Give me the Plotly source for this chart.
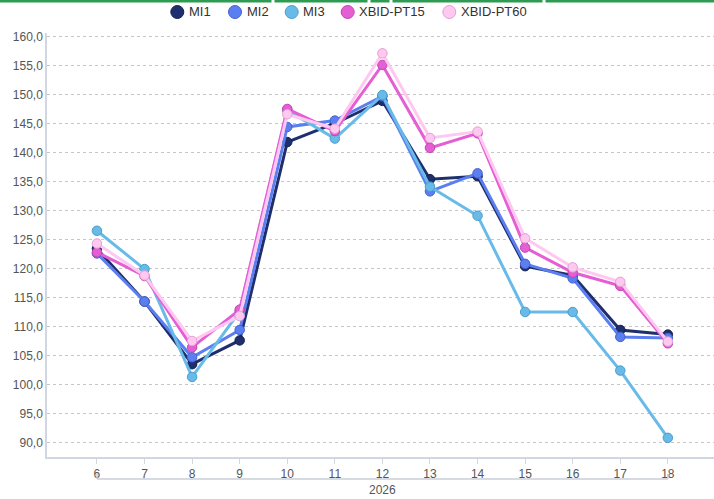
import plotly.graph_objects as go

weeks = [6, 7, 8, 9, 10, 11, 12, 13, 14, 15, 16, 17, 18]
year_label = "2026"
series_names = ["MI1", "MI2", "MI3", "XBID-PT15", "XBID-PT60"]
mi1 = [123.4, 114.3, 103.5, 107.6, 141.8, 145.0, 148.9, 135.4, 135.9, 120.4, 118.8, 109.4, 108.6]
mi2 = [122.6, 114.3, 104.7, 109.4, 144.4, 145.5, 149.7, 133.3, 136.4, 120.8, 118.3, 108.2, 108.0]
mi3 = [126.5, 119.9, 101.3, 112.6, 147.3, 142.4, 149.9, 134.1, 129.1, 112.5, 112.5, 102.4, 90.8]
pt15 = [122.8, 118.7, 106.4, 112.9, 147.5, 143.7, 155.1, 140.8, 143.3, 123.6, 119.3, 117.0, 107.1]
pt60 = [124.3, 118.8, 107.5, 111.8, 146.6, 144.1, 157.1, 142.5, 143.6, 125.2, 120.2, 117.7, 107.4]
y_ticks = [90, 95, 100, 105, 110, 115, 120, 125, 130, 135, 140, 145, 150, 155, 160]

values = [mi1, mi2, mi3, pt15, pt60]
line_colors = ["#1f2f6e", "#5b7ef0", "#68bbe8", "#e55fd4", "#ffc8f0"]
edge_colors = ["#15214f", "#4262d0", "#4a9dcc", "#c443b2", "#e0a2d2"]

W, H = 714, 499
left_m, right_m, top_m, bot_m = 47, 0, 33, 42
plot_w = W - left_m - right_m
plot_h = H - top_m - bot_m


def xpx(px):
    return (px - left_m) / plot_w


def ypx(px):
    return 1 - (px - top_m) / plot_h


fig = go.Figure()
for name, vals, lc, ec in zip(series_names, values, line_colors, edge_colors):
    fig.add_trace(go.Scatter(
        x=weeks, y=vals, name=name, mode="lines+markers",
        line=dict(color=lc, width=3),
        marker=dict(size=9.5, color=lc, line=dict(color=ec, width=1)),
        showlegend=False, hovertemplate="%{y:.1f}<extra>" + name + "</extra>",
    ))

shapes = []
annotations = []
# bracket under x axis tick labels
shapes.append(dict(type="line", xref="x", yref="paper", x0=weeks[0], x1=weeks[-1],
                   y0=ypx(479), y1=ypx(479), line=dict(color="#c8ced8", width=1.5)))
for xv in (weeks[0], weeks[-1]):
    shapes.append(dict(type="line", xref="x", yref="paper", x0=xv, x1=xv,
                       y0=ypx(479), y1=ypx(474), line=dict(color="#c8ced8", width=1.5)))
annotations.append(dict(text=year_label, xref="x", yref="paper",
                        x=(weeks[0] + weeks[-1]) / 2, y=ypx(490), showarrow=False,
                        font=dict(size=12, color="#555555"), yanchor="middle"))

# green band at top of page with small gaps
gaps = [273, 369, 391, 544]
segs = []
start = 0
for g in gaps:
    segs.append((start, g - 1.5))
    start = g + 1.5
segs.append((start, W))
for a, b in segs:
    shapes.append(dict(type="rect", xref="paper", yref="paper",
                       x0=xpx(a), x1=xpx(b), y0=ypx(2.5), y1=ypx(0),
                       line=dict(width=0), fillcolor="#2e9b52", layer="above"))

# legend (drawn manually so spacing follows the reference)
legend_circle_x = [177.3, 235, 291.7, 347.7, 449.3]
legend_y = 12
r = 6.5
for name, cx, lc, ec in zip(series_names, legend_circle_x, line_colors, edge_colors):
    shapes.append(dict(type="circle", xref="paper", yref="paper",
                       x0=xpx(cx - r), x1=xpx(cx + r),
                       y0=ypx(legend_y + r), y1=ypx(legend_y - r),
                       fillcolor=lc, line=dict(color=ec, width=1)))
    annotations.append(dict(text=name, xref="paper", yref="paper",
                            x=xpx(cx + r + 6), y=ypx(legend_y), xanchor="left",
                            yanchor="middle", showarrow=False, xshift=-3,
                            font=dict(size=13, color="#333333")))

fig.update_layout(
    width=W, height=H,
    margin=dict(l=left_m, r=right_m, t=top_m, b=bot_m),
    paper_bgcolor="white", plot_bgcolor="white",
    font=dict(family="Liberation Sans, Arial, sans-serif", color="#555555", size=12),
    separators=",.",
    showlegend=False,
    shapes=shapes,
    annotations=annotations,
    xaxis=dict(range=[4.95, 18.97], tickmode="array", tickvals=weeks,
               ticktext=[str(w) for w in weeks], showgrid=False, zeroline=False,
               showline=True, linecolor="#d0d7e3", linewidth=1.5,
               ticks="outside", ticklen=5, tickcolor="#d0d7e3",
               tickfont=dict(size=12, color="#555555")),
    yaxis=dict(range=[87.5, 160.6], tickmode="array", tickvals=y_ticks,
               tickformat=".1f", showgrid=True, gridcolor="#c6c6c6", griddash="dot",
               gridwidth=1, zeroline=False, showline=True, linecolor="#d0d7e3",
               linewidth=1.5, ticks="", tickfont=dict(size=12, color="#555555")),
)

fig.write_html("out.html", config={"displayModeBar": False},
               post_script="document.body.style.margin='0px';")
